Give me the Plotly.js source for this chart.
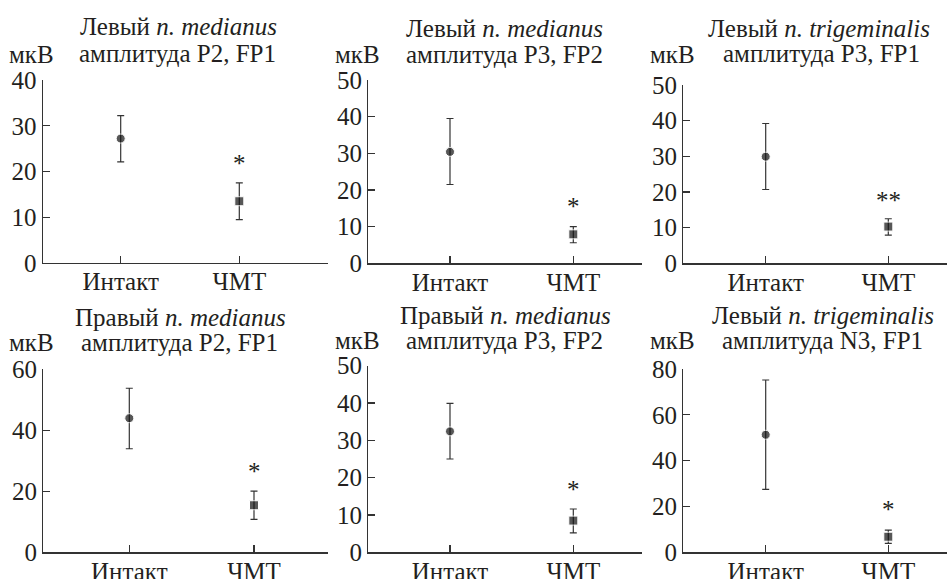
<!DOCTYPE html>
<html>
<head>
<meta charset="utf-8">
<script src="https://cdn.plot.ly/plotly-3.0.1.min.js"></script>
<style>
@font-face { font-family: 'RefSerif'; font-style: normal; font-weight: 400;
  src: local('Liberation Serif'), local('LiberationSerif'), local('LiberationSerif-Regular'), local('Times New Roman'), local('DejaVu Serif'); }
@font-face { font-family: 'RefSerif'; font-style: italic; font-weight: 400;
  src: local('Liberation Serif Italic'), local('LiberationSerif-Italic'), local('Times New Roman Italic'), local('DejaVu Serif Italic'); }
html,body{margin:0;padding:0;background:#fff;}
#chart{width:947px;height:579px;}
</style>
</head>
<body>
<div id="chart"></div>
<script>
// ---- data ----
const categories = ['Интакт', 'ЧМТ'];
const titleLine1 = ['Левый <i>n. medianus</i>', 'Левый <i>n. medianus</i>', 'Левый <i>n. trigeminalis</i>',
                    'Правый <i>n. medianus</i>', 'Правый <i>n. medianus</i>', 'Левый <i>n. trigeminalis</i>'];
const titleLine2 = ['амплитуда P2, FP1', 'амплитуда P3, FP2', 'амплитуда P3, FP1',
                    'амплитуда P2, FP1', 'амплитуда P3, FP2', 'амплитуда N3, FP1'];
const unitLabel = 'мкВ';
const intactMean = [27.2, 30.4, 29.9, 43.9, 32.4, 51.3];
const intactHi   = [32.2, 39.5, 39.2, 53.7, 39.9, 75.2];
const intactLo   = [22.1, 21.5, 20.7, 33.9, 25.0, 27.5];
const tbiMean    = [13.5, 7.9, 10.3, 15.4, 8.5, 6.8];
const tbiHi      = [17.5, 10.0, 12.5, 20.0, 11.6, 9.7];
const tbiLo      = [9.5, 5.6, 7.9, 10.8, 5.2, 3.9];
const sigLabels  = ['*', '*', '**', '*', '*', '*'];
const sigY       = [21.8, 15.4, 17.7, 26.4, 16.7, 18.5];
const yMax       = [40, 50, 50, 60, 50, 80];
const yStep      = [10, 10, 10, 20, 10, 20];

// ---- layout geometry (pixels) ----
const W = 947, H = 579;
const geo = [
  {ax: 42.7, right: 328, top: 80, bot: 263, c1: 120.7, c2: 239.3, t1: [178, 27], t2: [177.5, 53], u: [32, 55]},
  {ax: 368.3, right: 642, top: 80, bot: 263.3, c1: 450, c2: 573.3, t1: [504, 28], t2: [505, 55], u: [357, 55]},
  {ax: 683.3, right: 947, top: 85, bot: 263.3, c1: 765.7, c2: 888.3, t1: [819, 28], t2: [821, 53], u: [672, 55]},
  {ax: 43.3, right: 328, top: 369, bot: 552.3, c1: 129.3, c2: 254, t1: [180, 317], t2: [179, 342], u: [32, 342]},
  {ax: 368.3, right: 642, top: 365.7, bot: 552.3, c1: 450, c2: 573.3, t1: [506, 315], t2: [504, 340], u: [357, 340]},
  {ax: 683.3, right: 947, top: 369, bot: 552.3, c1: 765.7, c2: 888.3, t1: [823, 315], t2: [822, 340], u: [672, 340]}
];
const FONT = "'Liberation Serif', RefSerif, 'DejaVu Serif', 'Times New Roman', serif";
const TXT = '#231f20';
const FS = 25;
const fx = x => x / W, fy = y => 1 - y / H;

function build() {
  const traces = [];
  const layout = {
    width: W, height: H,
    margin: {l: 0, r: 0, t: 0, b: 0},
    showlegend: false,
    annotations: []
  };
  geo.forEach((g, i) => {
    const n = i + 1;
    const xa = 'xaxis' + (n === 1 ? '' : n), ya = 'yaxis' + (n === 1 ? '' : n);
    const xr = 'x' + (n === 1 ? '' : n), yr = 'y' + (n === 1 ? '' : n);
    const span = g.c2 - g.c1;
    traces.push({
      type: 'scatter', mode: 'markers', xaxis: xr, yaxis: yr,
      x: [1, 2], y: [intactMean[i], tbiMean[i]],
      marker: {symbol: ['circle', 'square'], size: [9, 9], color: '#111'},
      error_y: {type: 'data', symmetric: false,
        array: [intactHi[i] - intactMean[i], tbiHi[i] - tbiMean[i]],
        arrayminus: [intactMean[i] - intactLo[i], tbiMean[i] - tbiLo[i]],
        color: '#333', thickness: 1.2, width: 3.5},
      hoverinfo: 'skip'
    });
    layout[xa] = {
      domain: [fx(g.ax), fx(g.right)],
      range: [1 - (g.c1 - g.ax) / span, 2 + (g.right - g.c2) / span],
      anchor: yr, tickvals: [1, 2], ticktext: categories,
      ticks: 'inside', ticklen: 7, tickcolor: '#333', tickwidth: 1.2,
      showline: true, linecolor: '#333', linewidth: 1.2,
      showgrid: false, zeroline: false, fixedrange: true,
      ticklabelstandoff: -4,
      tickfont: {family: FONT, size: FS, color: TXT}
    };
    const tv = [];
    for (let v = 0; v <= yMax[i]; v += yStep[i]) tv.push(v);
    layout[ya] = {
      domain: [fy(g.bot), fy(g.top)],
      range: [0, yMax[i]], anchor: xr, tickvals: tv,
      ticks: 'inside', ticklen: 7, tickcolor: '#333', tickwidth: 1.2,
      showline: true, linecolor: '#333', linewidth: 1.2,
      showgrid: false, zeroline: false, fixedrange: true,
      tickfont: {family: FONT, size: FS, color: TXT}
    };
    layout.annotations.push(
      {xref: 'paper', yref: 'paper', x: fx(g.t1[0]), y: fy(g.t1[1]), xanchor: 'center', yanchor: 'middle',
       text: titleLine1[i], showarrow: false, font: {family: FONT, size: FS, color: TXT}},
      {xref: 'paper', yref: 'paper', x: fx(g.t2[0]), y: fy(g.t2[1]), xanchor: 'center', yanchor: 'middle',
       text: titleLine2[i], showarrow: false, font: {family: FONT, size: FS, color: TXT}},
      {xref: 'paper', yref: 'paper', x: fx(g.u[0]), y: fy(g.u[1]), xanchor: 'center', yanchor: 'middle',
       text: unitLabel, showarrow: false, font: {family: FONT, size: FS, color: TXT}},
      {xref: xr, yref: yr, x: 2, y: sigY[i], xanchor: 'center', yanchor: 'middle',
       text: sigLabels[i], showarrow: false, font: {family: FONT, size: FS, color: TXT}}
    );
  });
  return {traces, layout};
}

const first = build();
Plotly.newPlot('chart', first.traces, first.layout, {displayModeBar: false, staticPlot: true});
if (document.fonts && document.fonts.load) {
  Promise.all([
    document.fonts.load(FS + 'px RefSerif'),
    document.fonts.load('italic ' + FS + 'px RefSerif'),
    document.fonts.load(FS + 'px "Liberation Serif"')
  ]).then(() => {
    const again = build();
    Plotly.react('chart', again.traces, again.layout, {displayModeBar: false, staticPlot: true});
  }).catch(() => {});
}
</script>
</body>
</html>
